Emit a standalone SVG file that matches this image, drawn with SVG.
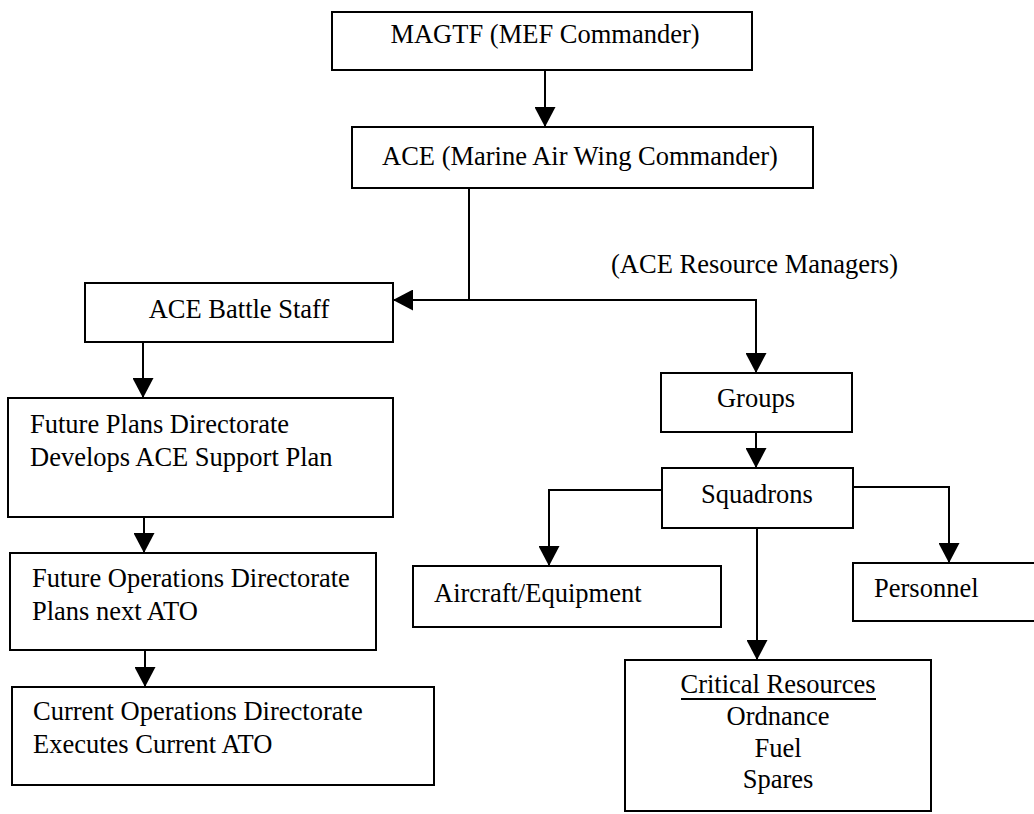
<svg xmlns="http://www.w3.org/2000/svg" width="1034" height="814" viewBox="0 0 1034 814">
<style>
  .box { fill: #fff; stroke: #000; stroke-width: 2; }
  .t { font-family: "Liberation Serif", "Times New Roman", serif; font-size: 26.5px; fill: #000; }
  .c { text-anchor: middle; }
  .ln { fill: none; stroke: #000; stroke-width: 2; }
</style>
<defs>
  <marker id="ah" viewBox="0 0 20 21" markerWidth="20" markerHeight="21" refX="20" refY="10.5" orient="auto" markerUnits="userSpaceOnUse">
    <path d="M0,0 L20,10.5 L0,21 z" fill="#000"/>
  </marker>
</defs>
<rect width="1034" height="814" fill="#fff"/>

<g id="connectors">
  <path class="ln" d="M545,70 V127" marker-end="url(#ah)"/>
  <path class="ln" d="M469,188 V300 H393" marker-end="url(#ah)"/>
  <path class="ln" d="M469,300 H756 V373" marker-end="url(#ah)"/>
  <path class="ln" d="M143,342 V398" marker-end="url(#ah)"/>
  <path class="ln" d="M144,517 V553" marker-end="url(#ah)"/>
  <path class="ln" d="M145,650 V687" marker-end="url(#ah)"/>
  <path class="ln" d="M756,432 V468" marker-end="url(#ah)"/>
  <path class="ln" d="M662,490 H549 V566" marker-end="url(#ah)"/>
  <path class="ln" d="M853,487 H949 V563" marker-end="url(#ah)"/>
  <path class="ln" d="M757,528 V660" marker-end="url(#ah)"/>
</g>

<g id="magtf">
  <rect class="box" x="332" y="12" width="420" height="58"/>
  <text class="t c" x="545" y="43">MAGTF (MEF Commander)</text>
</g>
<g id="ace">
  <rect class="box" x="352" y="127" width="461" height="61"/>
  <text class="t" x="382" y="165">ACE (Marine Air Wing Commander)</text>
</g>
<g id="label-resource-managers">
  <text class="t" x="611" y="273">(ACE Resource Managers)</text>
</g>
<g id="battle-staff">
  <rect class="box" x="85" y="283" width="308" height="59"/>
  <text class="t c" x="239" y="318">ACE Battle Staff</text>
</g>
<g id="future-plans">
  <rect class="box" x="8" y="398" width="385" height="119"/>
  <text class="t" x="30" y="433">Future Plans Directorate</text>
  <text class="t" x="30" y="466">Develops ACE Support Plan</text>
</g>
<g id="future-ops">
  <rect class="box" x="10" y="553" width="366" height="97"/>
  <text class="t" x="32" y="587">Future Operations Directorate</text>
  <text class="t" x="32" y="620">Plans next ATO</text>
</g>
<g id="current-ops">
  <rect class="box" x="12" y="687" width="422" height="98"/>
  <text class="t" x="33" y="720">Current Operations Directorate</text>
  <text class="t" x="33" y="753">Executes Current ATO</text>
</g>
<g id="groups">
  <rect class="box" x="661" y="373" width="191" height="59"/>
  <text class="t c" x="756" y="407">Groups</text>
</g>
<g id="squadrons">
  <rect class="box" x="662" y="468" width="191" height="60"/>
  <text class="t c" x="757" y="503">Squadrons</text>
</g>
<g id="aircraft">
  <rect class="box" x="413" y="566" width="308" height="61"/>
  <text class="t" x="434" y="602">Aircraft/Equipment</text>
</g>
<g id="personnel">
  <rect class="box" x="853" y="563" width="190" height="58"/>
  <text class="t" x="874" y="597">Personnel</text>
</g>
<g id="critical">
  <rect class="box" x="625" y="660" width="306" height="151"/>
  <text class="t c" x="778" y="693">Critical Resources</text>
  <line class="ln" x1="681" y1="699" x2="876" y2="699"/>
  <text class="t c" x="778" y="725">Ordnance</text>
  <text class="t c" x="778" y="757">Fuel</text>
  <text class="t c" x="778" y="788">Spares</text>
</g>
</svg>
